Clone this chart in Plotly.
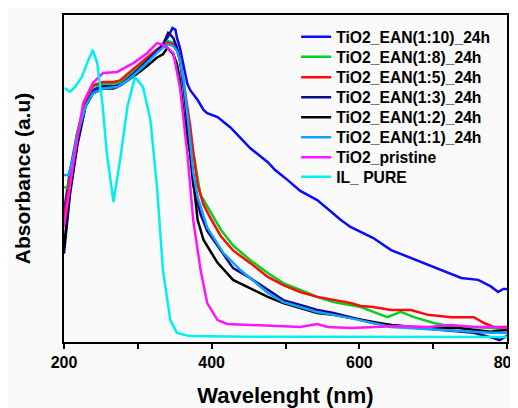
import plotly.graph_objects as go

# ---- data (wavelength nm, absorbance a.u.) ----
wl_110 = [200, 208, 218, 229, 239, 253, 267, 276, 286, 299, 313, 326, 334, 340, 344, 347, 351, 353, 357, 362, 367, 371, 381, 389, 394, 408, 425, 439, 452, 476, 486, 503, 520, 543, 575, 588, 619, 643, 687, 710, 738, 761, 778, 788, 795, 801]
ab_110 = [0.40, 0.52, 0.64, 0.73, 0.77, 0.785, 0.782, 0.79, 0.81, 0.83, 0.86, 0.89, 0.91, 0.93, 0.95, 0.96, 0.955, 0.93, 0.90, 0.84, 0.79, 0.77, 0.74, 0.71, 0.70, 0.688, 0.657, 0.624, 0.593, 0.55, 0.526, 0.495, 0.462, 0.434, 0.373, 0.352, 0.318, 0.281, 0.242, 0.220, 0.196, 0.190, 0.170, 0.153, 0.162, 0.162]

wl_18 = [200, 205, 212, 218, 229, 239, 253, 267, 276, 286, 299, 313, 326, 334, 341, 348, 353, 357, 362, 367, 371, 375, 381, 385, 398, 412, 429, 452, 476, 497, 520, 543, 565, 588, 602, 619, 638, 656, 674, 701, 728, 755, 778, 801]
ab_18 = [0.474, 0.47, 0.55, 0.64, 0.74, 0.78, 0.79, 0.79, 0.795, 0.815, 0.84, 0.865, 0.89, 0.905, 0.92, 0.915, 0.90, 0.87, 0.78, 0.70, 0.64, 0.58, 0.50, 0.45, 0.40, 0.345, 0.295, 0.251, 0.211, 0.180, 0.159, 0.138, 0.122, 0.113, 0.107, 0.092, 0.076, 0.092, 0.076, 0.058, 0.046, 0.046, 0.043, 0.037]

wl_15 = [200, 208, 218, 229, 239, 253, 267, 276, 286, 299, 313, 326, 334, 341, 348, 353, 357, 362, 367, 371, 375, 381, 389, 398, 412, 429, 452, 476, 497, 520, 543, 565, 588, 602, 619, 643, 670, 693, 724, 755, 769, 782, 801]
ab_15 = [0.38, 0.50, 0.63, 0.74, 0.785, 0.795, 0.795, 0.80, 0.82, 0.845, 0.87, 0.895, 0.905, 0.915, 0.91, 0.895, 0.87, 0.80, 0.72, 0.66, 0.58, 0.48, 0.42, 0.38, 0.325, 0.28, 0.242, 0.199, 0.174, 0.153, 0.138, 0.128, 0.119, 0.110, 0.107, 0.098, 0.098, 0.083, 0.076, 0.076, 0.058, 0.046, 0.046]

wl_13 = [200, 208, 218, 229, 239, 253, 272, 286, 299, 313, 326, 334, 341, 344, 348, 353, 357, 362, 367, 371, 375, 385, 394, 412, 429, 452, 476, 497, 520, 543, 565, 588, 619, 666, 710, 755, 782, 790, 801]
ab_13 = [0.27, 0.45, 0.60, 0.72, 0.76, 0.78, 0.78, 0.80, 0.83, 0.86, 0.89, 0.91, 0.945, 0.94, 0.93, 0.90, 0.86, 0.78, 0.66, 0.56, 0.48, 0.39, 0.34, 0.281, 0.226, 0.196, 0.159, 0.128, 0.113, 0.098, 0.089, 0.076, 0.058, 0.046, 0.037, 0.028, 0.012, 0.006, 0.02]

wl_12 = [200, 208, 218, 229, 239, 253, 267, 276, 286, 299, 313, 326, 334, 340, 344, 348, 353, 357, 362, 367, 371, 381, 389, 408, 429, 452, 476, 497, 520, 543, 565, 588, 619, 643, 687, 734, 778, 801]
ab_12 = [0.29, 0.46, 0.61, 0.72, 0.76, 0.775, 0.775, 0.785, 0.80, 0.82, 0.845, 0.87, 0.88, 0.899, 0.89, 0.88, 0.85, 0.80, 0.70, 0.62, 0.578, 0.373, 0.312, 0.242, 0.19, 0.165, 0.138, 0.119, 0.104, 0.089, 0.083, 0.073, 0.061, 0.052, 0.043, 0.043, 0.031, 0.037]

wl_11 = [200, 206, 212, 218, 229, 239, 253, 272, 286, 299, 313, 326, 334, 341, 348, 353, 357, 362, 367, 371, 375, 381, 394, 416, 439, 452, 476, 497, 520, 543, 565, 588, 643, 710, 778, 801]
ab_11 = [0.511, 0.51, 0.56, 0.63, 0.72, 0.76, 0.775, 0.78, 0.80, 0.825, 0.855, 0.885, 0.90, 0.91, 0.905, 0.89, 0.86, 0.80, 0.70, 0.60, 0.52, 0.443, 0.35, 0.272, 0.22, 0.196, 0.15, 0.122, 0.107, 0.092, 0.083, 0.073, 0.046, 0.037, 0.028, 0.028]

wl_pr = [200, 213, 226, 239, 253, 272, 294, 313, 326, 333, 340, 348, 357, 367, 375, 385, 394, 408, 421, 452, 497, 520, 543, 557, 588, 619, 656, 693, 724, 755, 778, 801]
ab_pr = [0.352, 0.55, 0.731, 0.792, 0.823, 0.826, 0.853, 0.884, 0.914, 0.91, 0.899, 0.884, 0.78, 0.578, 0.373, 0.22, 0.119, 0.067, 0.055, 0.052, 0.049, 0.046, 0.055, 0.046, 0.043, 0.046, 0.049, 0.046, 0.052, 0.046, 0.046, 0.043]

wl_il = [201, 208, 215, 224, 233, 239, 245, 252, 258, 267, 276, 286, 296, 307, 317, 326, 334, 344, 353, 370, 450, 600, 801]
ab_il = [0.777, 0.765, 0.78, 0.81, 0.862, 0.893, 0.853, 0.73, 0.578, 0.428, 0.557, 0.72, 0.81, 0.78, 0.679, 0.474, 0.22, 0.067, 0.028, 0.018, 0.016, 0.015, 0.015]

series = [
    ("TiO2_EAN(1:10)_24h", wl_110, ab_110, "#0a0aff"),
    ("TiO2_EAN(1:8)_24h", wl_18, ab_18, "#00d21e"),
    ("TiO2_EAN(1:5)_24h", wl_15, ab_15, "#ff0a0a"),
    ("TiO2_EAN(1:3)_24h", wl_13, ab_13, "#0a0a8c"),
    ("TiO2_EAN(1:2)_24h", wl_12, ab_12, "#000000"),
    ("TiO2_EAN(1:1)_24h", wl_11, ab_11, "#14a0ff"),
    ("TiO2_pristine", wl_pr, ab_pr, "#ff14ff"),
    ("IL_ PURE", wl_il, ab_il, "#00f0f0"),
]

x_ticks = [200, 400, 600, 800]

font_b = "Liberation Sans, Arial, sans-serif"
# the page body adds an 8 px offset, so the figure is 8 px smaller than the window
W, H = 510, 400
ML, MR, MT, MB = 56, 11, 7, 66
plot_h = H - MT - MB

fig = go.Figure()
legend_layouts = {}
row_y_px = [29, 49, 69.5, 89.5, 109.5, 129.5, 149.5, 169]
for i, (name, x, y, c) in enumerate(series):
    key = "legend" if i == 0 else f"legend{i + 1}"
    fig.add_trace(go.Scatter(x=x, y=y, mode="lines", name=name, legend=key,
                             line=dict(color=c, width=2.5)))
    legend_layouts[key] = dict(
        x=0.524, y=(H - MB - row_y_px[i]) / plot_h,
        xanchor="left", yanchor="middle",
        bgcolor="rgba(0,0,0,0)", borderwidth=0,
        font=dict(size=15.7, family=font_b, weight="bold", color="black"),
        itemwidth=30,
    )

fig.update_layout(
    width=W, height=H,
    margin=dict(l=ML, r=MR, t=MT, b=MB),
    paper_bgcolor="#fafafa", plot_bgcolor="#fafafa",
    font=dict(family=font_b, color="black"),
    showlegend=True,
    xaxis=dict(range=[200, 800], tickvals=x_ticks, ticks="outside", ticklen=5,
               tickwidth=2, tickcolor="black", automargin=False,
               ticklabeloverflow="allow",
               minor=dict(dtick=100, ticks="outside", ticklen=5, tickwidth=2, tickcolor="black"),
               showline=True, linewidth=2, linecolor="black", mirror=True,
               showgrid=False, zeroline=False, ticklabelstandoff=0,
               tickfont=dict(size=16, family=font_b, weight="bold"),
               title=dict(text="Wavelenght (nm)", font=dict(size=22, family=font_b, weight="bold"), standoff=21)),
    yaxis=dict(range=[0, 1], showticklabels=False, ticks="", automargin=False,
               showline=True, linewidth=2, linecolor="black", mirror=True,
               showgrid=False, zeroline=False,
               title=dict(text="Absorbance (a.u)", font=dict(size=21, family=font_b, weight="bold"), standoff=26)),
    **legend_layouts,
)

fig.write_html("out.html")
